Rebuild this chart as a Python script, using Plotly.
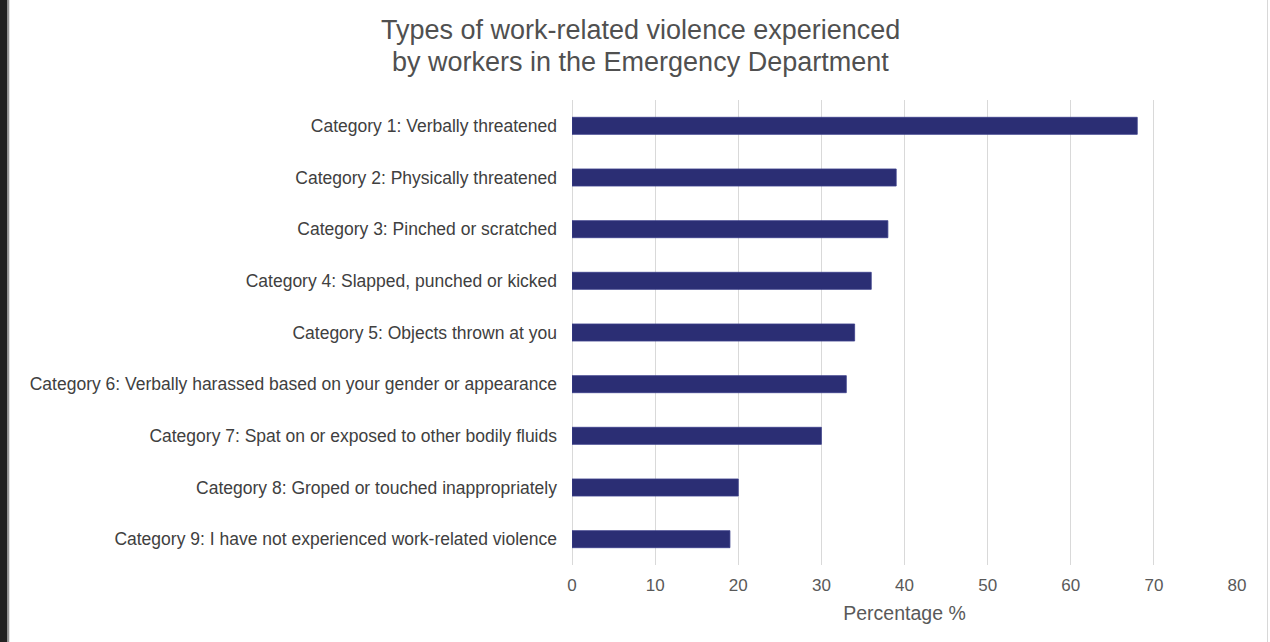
import plotly.graph_objects as go

categories = [
    "Category 1: Verbally threatened",
    "Category 2: Physically threatened",
    "Category 3: Pinched or scratched",
    "Category 4: Slapped, punched or kicked",
    "Category 5: Objects thrown at you",
    "Category 6: Verbally harassed based on your gender or appearance",
    "Category 7: Spat on or exposed to other bodily fluids",
    "Category 8: Groped or touched inappropriately",
    "Category 9: I have not experienced work-related violence",
]
values = [68, 39, 38, 36, 34, 33, 30, 20, 19]
x_ticks = [0, 10, 20, 30, 40, 50, 60, 70, 80]
title_lines = [
    "Types of work-related violence experienced",
    "by workers in the Emergency Department",
]

W, H = 1270, 642
L, R, T, B = 572, 33, 100, 77

fig = go.Figure(go.Bar(
    x=values, y=categories, orientation="h",
    width=0.33,
    marker=dict(color="#2b2e74", line=dict(color="#3b3f8a", width=0.8)),
))

def px_to_paper_x(p):
    return (p - L) / (W - L - R)

PH = H - T - B

def px_to_paper_y(p):
    return (H - B - p) / PH

shapes = [
    dict(type="rect", xref="paper", yref="paper",
         x0=px_to_paper_x(0), x1=px_to_paper_x(7.5), y0=-B / PH, y1=1 + T / PH,
         fillcolor="#222222", line=dict(width=0), layer="above"),
    dict(type="line", xref="paper", yref="paper",
         x0=px_to_paper_x(8.5), x1=px_to_paper_x(8.5), y0=-B / PH, y1=1 + T / PH,
         line=dict(color="#999999", width=1.5)),
    dict(type="line", xref="paper", yref="paper",
         x0=px_to_paper_x(1267.5), x1=px_to_paper_x(1267.5), y0=-B / PH, y1=1 + T / PH,
         line=dict(color="#d8d8d8", width=1)),
]

annotations = [
    dict(text=t, xref="paper", yref="paper", x=px_to_paper_x(640), y=px_to_paper_y(yc),
         xanchor="center", yanchor="middle", showarrow=False,
         font=dict(size=27, color="#505050"))
    for t, yc in zip(title_lines, [30, 62])
]

fig.update_layout(
    width=W, height=H,
    margin=dict(l=L, r=R, t=T, b=B),
    paper_bgcolor="white", plot_bgcolor="white",
    font=dict(family="Liberation Sans, Arial, sans-serif", color="#404040"),
    showlegend=False,
    shapes=shapes,
    annotations=annotations,
    bargap=0.67,
)
fig.update_xaxes(
    range=[0, 80], tickvals=x_ticks, ticktext=[str(v) for v in x_ticks],
    showgrid=True, gridcolor="#d9d9d9", gridwidth=1,
    zeroline=True, zerolinecolor="#d9d9d9", zerolinewidth=1,
    showline=False, ticks="", ticklabelstandoff=8,
    tickfont=dict(size=17, color="#595959"),
    title=dict(text="Percentage %", font=dict(size=19.5, color="#595959"), standoff=12),
)
fig.update_yaxes(
    autorange="reversed", showgrid=False, showline=False, ticks="",
    ticklabelstandoff=14,
    tickfont=dict(size=17.5, color="#404040"),
)

fig.write_html("out.html")
